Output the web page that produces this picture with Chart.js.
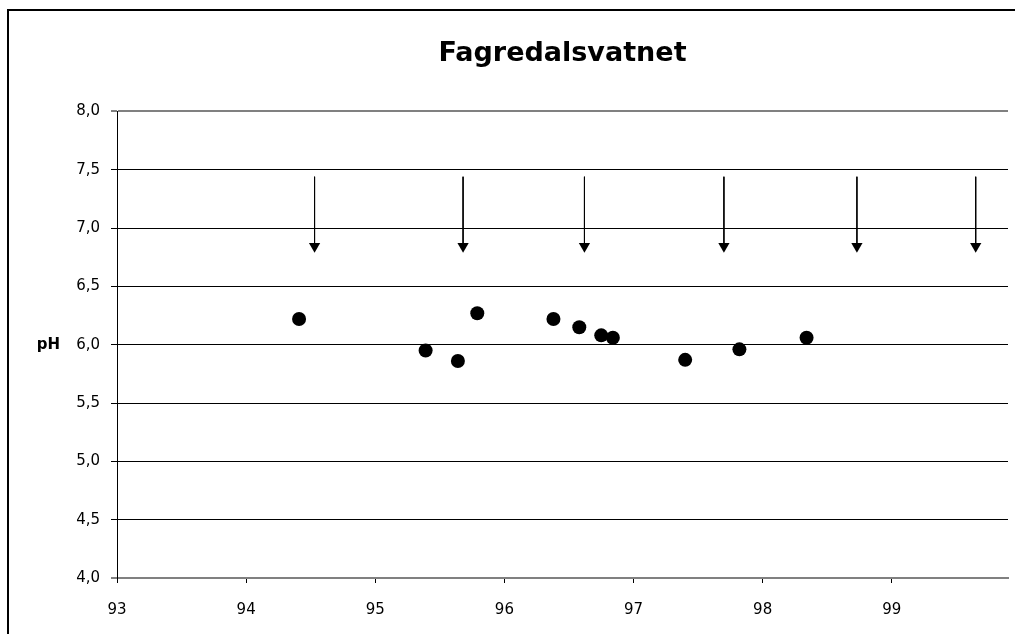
<!DOCTYPE html>
<html>
<head>
<meta charset="utf-8">
<script src="https://cdn.jsdelivr.net/npm/chart.js@4/dist/chart.umd.min.js"></script>
<style>
  html, body { margin: 0; padding: 0; background: #fff; overflow: hidden; }
  #wrap { position: absolute; left: 0; top: 0; width: 1015px; height: 634px; }
  #frame { position: absolute; left: 7px; top: 9px; width: 1100px; height: 700px; border: 2px solid #000; box-sizing: border-box; pointer-events: none; }
  canvas { position: absolute; left: 0; top: 0; }
</style>
</head>
<body>
<div id="wrap">
  <div id="frame"></div>
  <canvas id="c" width="1015" height="634"></canvas>
</div>
<script>
// ---- data ----
const chartTitle = 'Fagredalsvatnet';
const yAxisTitle = 'pH';
const xTickValues = [93, 94, 95, 96, 97, 98, 99];
const xTickLabels = ['93', '94', '95', '96', '97', '98', '99'];
const yTickValues = [4.0, 4.5, 5.0, 5.5, 6.0, 6.5, 7.0, 7.5, 8.0];
const yTickLabels = ['4,0', '4,5', '5,0', '5,5', '6,0', '6,5', '7,0', '7,5', '8,0'];
const sampleX  = [94.41, 95.39, 95.64, 95.79, 96.38, 96.58, 96.75, 96.84, 97.40, 97.82, 98.34];
const samplePH = [6.22, 5.95, 5.86, 6.27, 6.22, 6.15, 6.08, 6.06, 5.87, 5.96, 6.06];
const arrowX     = [94.53, 95.68, 96.62, 97.70, 98.73, 99.65];
const arrowStart = [7.44, 7.44, 7.44, 7.44, 7.44, 7.44];
const arrowEnd   = [6.845, 6.845, 6.845, 6.845, 6.845, 6.845];

// ---- build datasets ----
const samplePoints = sampleX.map((x, i) => ({ x: x, y: samplePH[i] }));
const arrowPoints = [];
arrowX.forEach((x, i) => {
  arrowPoints.push({ x: x, y: arrowStart[i] });
  arrowPoints.push({ x: x, y: arrowEnd[i] });
  arrowPoints.push({ x: x, y: null });
});

const FONT = 'DejaVu Sans';

const yTitlePlugin = {
  id: 'yTitle',
  afterDraw(chart) {
    const ctx = chart.ctx;
    const a = chart.chartArea;
    ctx.save();
    ctx.font = 'bold 15px "' + FONT + '"';
    ctx.fillStyle = '#000';
    ctx.textAlign = 'right';
    ctx.textBaseline = 'middle';
    ctx.fillText(yAxisTitle, 60, (a.top + a.bottom) / 2);
    ctx.restore();
  }
};

new Chart(document.getElementById('c'), {
  type: 'scatter',
  data: {
    datasets: [
      {
        label: 'pH',
        data: samplePoints,
        pointRadius: 7,
        pointHoverRadius: 7,
        pointBackgroundColor: '#000',
        pointBorderWidth: 0,
        showLine: false
      },
      {
        label: 'arrows',
        data: arrowPoints,
        showLine: true,
        spanGaps: false,
        borderColor: '#000',
        borderWidth: 1,
        pointStyle: 'triangle',
        rotation: 180,
        pointRadius: (c) => (c.dataIndex % 3 === 1 ? 6.5 : 0),
        pointHoverRadius: (c) => (c.dataIndex % 3 === 1 ? 6.5 : 0),
        pointBackgroundColor: '#000',
        pointBorderWidth: 0
      }
    ]
  },
  options: {
    responsive: false,
    animation: false,
    events: [],
    layout: { padding: { left: 0, right: 7, top: 0, bottom: 0 } },
    plugins: {
      legend: { display: false },
      tooltip: { enabled: false },
      title: {
        display: true,
        text: chartTitle,
        fullSize: false,
        color: '#000',
        font: { family: FONT, size: 27, weight: 'bold' },
        padding: { top: 38, bottom: 41 }
      }
    },
    scales: {
      x: {
        type: 'linear',
        min: 93,
        max: 99.9,
        afterBuildTicks: (axis) => { axis.ticks = xTickValues.map(v => ({ value: v })); },
        afterFit: (axis) => { axis.height = 56; },
        ticks: {
          callback: (v, i) => xTickLabels[i],
          color: '#000',
          font: { family: FONT, size: 15 },
          padding: 18,
          maxRotation: 0,
          autoSkip: false
        },
        grid: {
          drawOnChartArea: false,
          drawTicks: true,
          tickLength: 5,
          tickColor: '#000',
          tickWidth: 1
        },
        border: { display: true, color: '#808080', width: 2 }
      },
      y: {
        type: 'linear',
        min: 4,
        max: 8,
        afterBuildTicks: (axis) => { axis.ticks = yTickValues.map(v => ({ value: v })); },
        afterFit: (axis) => { axis.width = 117; },
        ticks: {
          callback: (v, i) => yTickLabels[i],
          color: '#000',
          font: { family: FONT, size: 15 },
          padding: 11,
          autoSkip: false
        },
        grid: {
          color: (c) => (c.tick && (c.tick.value === 8 || c.tick.value === 4)) ? '#808080' : '#000',
          lineWidth: (c) => (c.tick && (c.tick.value === 8 || c.tick.value === 4)) ? 2 : 1,
          drawTicks: true,
          tickLength: 6,
          tickColor: '#000',
          tickWidth: 1
        },
        border: { display: true, color: '#000', width: 1 }
      }
    }
  },
  plugins: [yTitlePlugin]
});
</script>
</body>
</html>
